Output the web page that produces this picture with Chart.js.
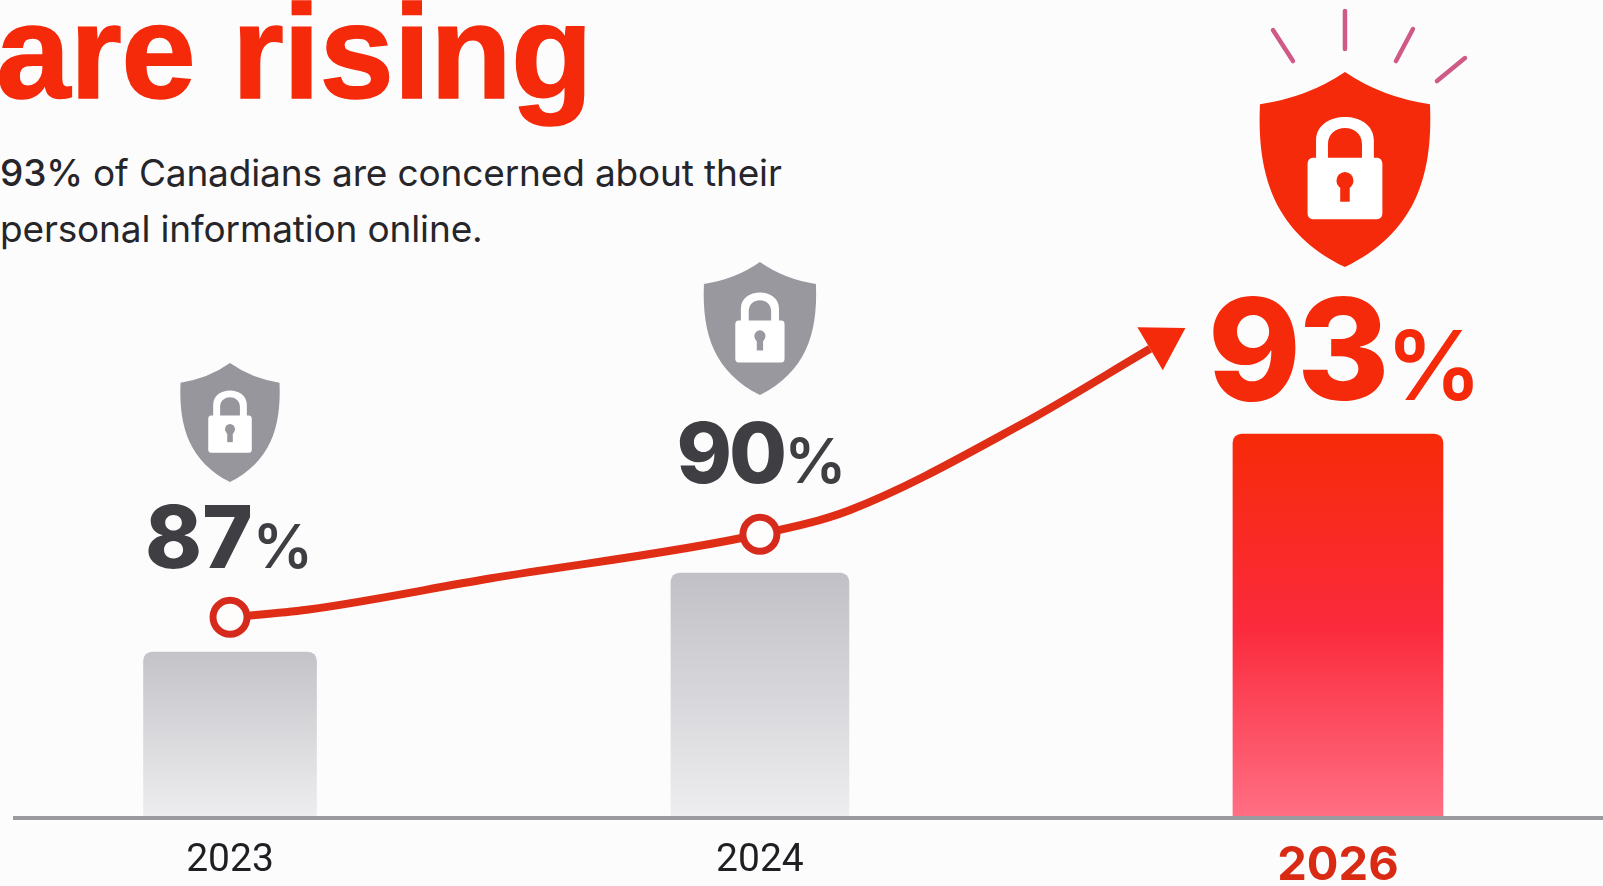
<!DOCTYPE html>
<html>
<head>
<meta charset="utf-8">
<title>Privacy concerns are rising</title>
<script src="https://cdn.jsdelivr.net/npm/chart.js@4/dist/chart.umd.js"></script>
<style>
  html, body { margin: 0; padding: 0; background: #fdfcfd; overflow: hidden; }
  #page { position: relative; width: 1603px; height: 886px; overflow: hidden; }
  #chart { position: absolute; left: 0; top: 0; }
  h1 {
    position: absolute; left: -4px; top: -33px; margin: 0;
    font: 700 134px/170px "Liberation Sans", sans-serif; letter-spacing: -0.7px; color: #f42a0a;
    -webkit-text-stroke: 1.5px #f42a0a;
  }
  p {
    position: absolute; left: 0; top: 145px; margin: 0;
    font: 400 37px/56px "Inter", sans-serif; letter-spacing: -0.15px; color: #26262a;
  }
  p b { font-weight: 500; }
</style>
</head>
<body>
<div id="page">
  <h1>are rising</h1>
  <p><b>93%</b> of Canadians are concerned about their<br>personal information online.</p>
  <canvas id="chart" width="1603" height="886"></canvas>
</div>
<script>
const years = [2023, 2024, 2026];
const concernValues = [87, 90, 93];

// trend line runs ahead of the last year and ends in an arrow
const trendYears = [2023, 2023.145, 2023.49, 2024, 2024.31, 2024.91, 2025.35];
const trendValues = [87, 87.27, 88.4, 90, 90.87, 94, 96.7];

const barWidths = [173, 178, 210];
const barFills = [
  ["#c3c3c8", "#eeeef0"],
  ["#c0c0c6", "#eeeef0"],
  ["#f72a08", "#fb2a3c", "#ff6f84"]
];
const badges = [
  { size: 86, unit: 60, spacing: 0, baselineUp: 84, color: "#3f3f43", shield: "#96969c", shieldW: 99, shieldH: 119, shieldUp: 289, dx: -1 },
  { size: 84, unit: 62, spacing: -3, baselineUp: 90, color: "#3f3f43", shield: "#98989e", shieldW: 112, shieldH: 133, shieldUp: 311, dx: 0 },
  { size: 141, unit: 96, spacing: -4, baselineUp: 34, color: "#f42a0a", shield: "#f42a0a", shieldW: 170, shieldH: 195, shieldUp: 362, dx: 5, rays: true }
];

// linear scale whose spacing is set piece by piece between stops
class StopScale extends Chart.LinearScale {
  getPixelForValue(value) {
    const stops = this.options.stops;
    let i = 0;
    while (i < stops.length - 2 && value > stops[i + 1][0]) i++;
    const [v0, f0] = stops[i];
    const [v1, f1] = stops[i + 1];
    return this.getPixelForDecimal(f0 + (value - v0) / (v1 - v0) * (f1 - f0));
  }
}
StopScale.id = "stops";
StopScale.defaults = Chart.LinearScale.defaults;
Chart.register(StopScale);

function barGradient(context, i) {
  const { chart } = context;
  const colors = barFills[i];
  if (!chart.chartArea) return colors[0];
  const top = chart.scales.y.getPixelForValue(concernValues[i]);
  const grad = chart.ctx.createLinearGradient(0, top, 0, chart.chartArea.bottom);
  colors.forEach((c, n) => grad.addColorStop(n / (colors.length - 1), c));
  return grad;
}

function drawShield(ctx, cx, top, w, h, color) {
  ctx.save();
  ctx.translate(cx, top);
  ctx.scale(w, h);
  ctx.fillStyle = color;
  ctx.beginPath();
  ctx.moveTo(0, 0);
  ctx.quadraticCurveTo(0.22, 0.13, 0.5, 0.165);
  ctx.bezierCurveTo(0.52, 0.55, 0.4, 0.83, 0, 1);
  ctx.bezierCurveTo(-0.4, 0.83, -0.52, 0.55, -0.5, 0.165);
  ctx.quadraticCurveTo(-0.22, 0.13, 0, 0);
  ctx.fill();

  // padlock
  ctx.fillStyle = "#fff";
  ctx.beginPath();
  ctx.roundRect(-0.22, 0.44, 0.44, 0.315, 0.03);
  ctx.fill();
  ctx.beginPath();
  ctx.moveTo(-0.17, 0.45);
  ctx.lineTo(-0.17, 0.35);
  ctx.bezierCurveTo(-0.17, 0.19, 0.17, 0.19, 0.17, 0.35);
  ctx.lineTo(0.17, 0.45);
  ctx.lineTo(0.1, 0.45);
  ctx.lineTo(0.1, 0.37);
  ctx.bezierCurveTo(0.1, 0.26, -0.1, 0.26, -0.1, 0.37);
  ctx.lineTo(-0.1, 0.45);
  ctx.closePath();
  ctx.fill();

  // keyhole
  ctx.fillStyle = color;
  ctx.beginPath();
  ctx.ellipse(0, 0.557, 0.05, 0.044, 0, 0, Math.PI * 2);
  ctx.fill();
  ctx.fillRect(-0.028, 0.57, 0.056, 0.095);
  ctx.restore();
}

function drawRays(ctx, cx, top) {
  const rays = [
    [0, -61, 0, -23],
    [-72, -42, -52, -11],
    [68, -43, 51, -11],
    [120, -14, 92, 9]
  ];
  ctx.save();
  ctx.strokeStyle = "#cf5a86";
  ctx.lineWidth = 4.5;
  ctx.lineCap = "round";
  rays.forEach(([x0, y0, x1, y1]) => {
    ctx.beginPath();
    ctx.moveTo(cx + x0, top + y0);
    ctx.lineTo(cx + x1, top + y1);
    ctx.stroke();
  });
  ctx.restore();
}

// percent figure and shield above each bar
const badgePlugin = {
  id: "badges",
  afterDatasetsDraw(chart) {
    const { ctx, scales } = chart;
    ctx.save();
    ctx.textBaseline = "alphabetic";
    ctx.textAlign = "left";
    years.forEach((year, i) => {
      const b = badges[i];
      const x = scales.x.getPixelForValue(year);
      const barTop = scales.y.getPixelForValue(concernValues[i]);
      const digits = String(concernValues[i]);

      ctx.fillStyle = b.color;
      ctx.letterSpacing = b.spacing + "px";
      ctx.font = `800 ${b.size}px Inter, sans-serif`;
      const digitWidth = ctx.measureText(digits).width;
      ctx.font = `600 ${b.unit}px Inter, sans-serif`;
      const unitWidth = ctx.measureText("%").width;
      const left = x + b.dx - (digitWidth + unitWidth) / 2;
      const baseline = barTop - b.baselineUp;
      ctx.font = `800 ${b.size}px Inter, sans-serif`;
      ctx.fillText(digits, left, baseline);
      ctx.font = `600 ${b.unit}px Inter, sans-serif`;
      ctx.fillText("%", left + digitWidth, baseline);
      ctx.letterSpacing = "0px";

      const shieldTop = barTop - b.shieldUp;
      const shieldX = x + (b.rays ? 7 : 0);
      drawShield(ctx, shieldX, shieldTop, b.shieldW, b.shieldH, b.shield);
      if (b.rays) drawRays(ctx, shieldX, shieldTop);
    });
    ctx.restore();
  }
};

// arrow head on the last trend point
const arrowPlugin = {
  id: "arrowHead",
  afterDatasetsDraw(chart) {
    const { ctx } = chart;
    const pts = chart.getDatasetMeta(years.length).data;
    const end = pts[pts.length - 1];
    const prev = pts[pts.length - 2];
    ctx.save();
    ctx.translate(end.x, end.y);
    ctx.rotate(Math.atan2(end.y - prev.y, end.x - prev.x));
    ctx.fillStyle = "#f42a0a";
    ctx.beginPath();
    ctx.moveTo(41, 0);
    ctx.lineTo(0, -25);
    ctx.lineTo(0, 25);
    ctx.closePath();
    ctx.fill();
    ctx.restore();
  }
};

const barDatasets = years.map((year, i) => ({
  type: "bar",
  label: String(year),
  data: [{ x: year, y: concernValues[i] }],
  barThickness: barWidths[i],
  grouped: false,
  borderRadius: { topLeft: 9, topRight: 9 },
  borderSkipped: false,
  backgroundColor: (context) => barGradient(context, i),
  xAxisID: "x",
  yAxisID: "y",
  order: 2
}));

const trendDataset = {
  type: "line",
  label: "Trend",
  data: trendYears.map((year, i) => ({ x: year, y: trendValues[i] })),
  xAxisID: "x",
  yAxisID: "trend",
  borderColor: "#e02e16",
  borderWidth: 8,
  cubicInterpolationMode: "monotone",
  pointRadius: (ctx) => (years.includes(trendYears[ctx.dataIndex]) ? 17 : 0),
  pointBorderWidth: 7,
  pointBorderColor: "#d62b1c",
  pointBackgroundColor: "#fffdfc",
  order: 1
};

new Chart(document.getElementById("chart"), {
  data: { datasets: [...barDatasets, trendDataset] },
  plugins: [badgePlugin, arrowPlugin],
  options: {
    responsive: false,
    animation: false,
    events: [],
    layout: { autoPadding: false, padding: { left: 15, right: 0, top: 0, bottom: 0 } },
    plugins: { legend: { display: false }, tooltip: { enabled: false } },
    scales: {
      x: {
        type: "stops",
        min: 2022,
        max: 2027,
        stops: [[2023, 0.1354], [2024, 0.4691], [2026, 0.8331]],
        grid: { display: false, drawTicks: false },
        border: { color: "#9b9b9f", width: 4, z: 1 },
        afterBuildTicks(scale) {
          scale.ticks = years.map((value) => ({ value }));
        },
        afterFit(scale) {
          scale.height = 68;
        },
        ticks: {
          autoSkip: false,
          maxRotation: 0,
          padding: 20,
          callback: (value) => String(value),
          color: (ctx) => (ctx.index === 2 ? "#d92a14" : "#1f1f23"),
          font: (ctx) => (ctx.index === 2
            ? { family: "Inter", size: 47, weight: "700" }
            : { family: "Roboto", size: 39, weight: "400" })
        }
      },
      y: {
        type: "stops",
        display: false,
        min: 83,
        max: 105,
        stops: [[83, 0], [87, 0.2029], [90, 0.2995], [93, 0.4694]]
      },
      trend: {
        type: "linear",
        display: false,
        min: 79.75,
        max: 109.3
      }
    }
  }
});
</script>
</body>
</html>
